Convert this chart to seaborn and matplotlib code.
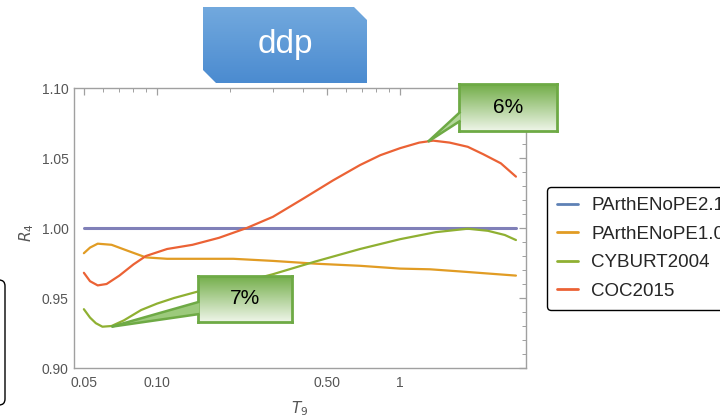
import numpy as np
import pandas as pd
import matplotlib
matplotlib.use('Agg')
import matplotlib.pyplot as plt
import seaborn as sns
from matplotlib.lines import Line2D
from matplotlib.patches import Polygon, FancyBboxPatch
from matplotlib.transforms import Affine2D
from matplotlib.colors import LinearSegmentedColormap
from matplotlib.ticker import FixedLocator, FixedFormatter, NullFormatter

# data
T_parth21 = [0.05, 3.0]
R_parth21 = [1.0, 1.0]

T_parth10 = [0.05, 0.053, 0.057, 0.065, 0.075, 0.09, 0.11, 0.15, 0.206, 0.3, 0.45, 0.685, 1.0, 1.33, 1.76, 3.0]
R_parth10 = [0.982, 0.986, 0.9888, 0.988, 0.984, 0.979, 0.978, 0.978, 0.978, 0.9765, 0.9745, 0.973, 0.971, 0.9705, 0.969, 0.966]

T_cyburt = [0.05, 0.053, 0.056, 0.0596, 0.065, 0.073, 0.086, 0.1, 0.1175, 0.15, 0.2, 0.25, 0.3, 0.447,
            0.685, 1.0, 1.4, 1.9, 2.3, 2.7, 3.0]
R_cyburt = [0.942, 0.936, 0.932, 0.9295, 0.930, 0.934, 0.9414, 0.946, 0.950, 0.955, 0.960, 0.9634, 0.967, 0.976,
            0.985, 0.992, 0.997, 0.9995, 0.998, 0.995, 0.9914]

T_coc = [0.05, 0.053, 0.057, 0.062, 0.07, 0.08, 0.09, 0.11, 0.14, 0.18, 0.234, 0.30, 0.40, 0.53, 0.685,
         0.83, 1.0, 1.2, 1.37, 1.6, 1.9, 2.2, 2.6, 3.0]
R_coc = [0.968, 0.962, 0.959, 0.960, 0.966, 0.974, 0.980, 0.985, 0.988, 0.993, 1.000, 1.008, 1.021, 1.034, 1.045,
         1.052, 1.057, 1.061, 1.0624, 1.061, 1.058, 1.0527, 1.0462, 1.0367]

labels = ['PArthENoPE2.1', 'PArthENoPE1.0', 'CYBURT2004', 'COC2015']
legend_colors = ['#5E81B5', '#E19C24', '#8FB032', '#EB6235']
line_colors = ['#8080B8', '#E19C24', '#8FB032', '#EB6235']

W, H = 720, 418

sns.set_style('white')
plt.rcParams['font.family'] = ['Liberation Sans', 'DejaVu Sans']

fig = plt.figure(figsize=(7.2, 4.18), dpi=100)
pix = Affine2D().scale(1 / W, -1 / H).translate(0, 1) + fig.transFigure

ax = fig.add_axes([74 / W, 1 - 368 / H, 452 / W, 280 / H])
series = [(T_parth21, R_parth21), (T_parth10, R_parth10), (T_cyburt, R_cyburt), (T_coc, R_coc)]
for (t, r), c, lab in zip(series, line_colors, labels):
    df = pd.DataFrame({'T9': t, 'R4': r})
    lw = 2.2 if lab == 'PArthENoPE2.1' else 1.6
    sns.lineplot(data=df, x='T9', y='R4', color=c, lw=lw, ax=ax, legend=False)

ax.set_xscale('log')
ax.set_xlim(0.04553, 3.30)
ax.set_ylim(0.90, 1.10)

gray = '#A0A0A0'
for sp in ax.spines.values():
    sp.set_color(gray)
    sp.set_linewidth(1.0)

ax.xaxis.set_major_locator(FixedLocator([0.05, 0.1, 0.5, 1]))
ax.xaxis.set_major_formatter(FixedFormatter(['0.05', '0.10', '0.50', '1']))
ax.xaxis.set_minor_locator(FixedLocator([0.06, 0.07, 0.08, 0.09, 0.2, 0.3, 0.4, 0.6, 0.7, 0.8, 0.9, 2, 3]))
ax.xaxis.set_minor_formatter(NullFormatter())
ax.yaxis.set_major_locator(FixedLocator([0.90, 0.95, 1.00, 1.05, 1.10]))
ax.yaxis.set_major_formatter(FixedFormatter(['0.90', '0.95', '1.00', '1.05', '1.10']))
ax.yaxis.set_minor_locator(FixedLocator(np.arange(0.90, 1.101, 0.01)))
ax.tick_params(which='both', direction='in', top=True, right=True, color=gray, labelcolor='#555555',
               labelsize=10)
ax.tick_params(which='major', length=5, width=0.9)
ax.tick_params(which='minor', length=3, width=0.7)
ax.tick_params(axis='x', pad=6)
ax.tick_params(axis='y', pad=4)

ax.set_xlabel('$T_9$', fontsize=11, color='#555555')
ax.set_ylabel('$R_4$', fontsize=11, color='#555555')
ax.xaxis.set_label_coords(0.5, -0.11)
ax.yaxis.set_label_coords(-0.085, 0.482)

# legend
handles = [Line2D([], [], color=c, lw=2) for c in legend_colors]
leg = ax.legend(handles, labels, loc='upper left', bbox_to_anchor=(547 / W, 1 - 187 / H),
                bbox_transform=fig.transFigure, frameon=True, fancybox=True, fontsize=13.5,
                handlelength=1.1, handletextpad=0.7, labelspacing=0.6, borderpad=0.55,
                borderaxespad=0, framealpha=1)
leg.get_frame().set_edgecolor('black')
leg.get_frame().set_linewidth(1.0)

# partial box on the left edge
fig.add_artist(FancyBboxPatch((-60, 280), 65, 125, boxstyle='round,pad=0,rounding_size=6',
                              transform=pix, fc='white', ec='black', lw=1.0, zorder=3))


def gradient_box(x0, y0, x1, y1, top, bottom, edge=None, clip=None):
    bax = fig.add_axes([x0 / W, 1 - y1 / H, (x1 - x0) / W, (y1 - y0) / H], zorder=5)
    cmap = LinearSegmentedColormap.from_list('grad', [top, bottom])
    im = bax.imshow(np.linspace(0, 1, 100).reshape(-1, 1), aspect='auto', cmap=cmap,
                    extent=[0, 1, 0, 1], origin='upper')
    bax.set_xlim(0, 1)
    bax.set_ylim(0, 1)
    bax.set_xticks([])
    bax.set_yticks([])
    for sp in bax.spines.values():
        if edge is None:
            sp.set_visible(False)
        else:
            sp.set_color(edge)
            sp.set_linewidth(2)
    bax.patch.set_alpha(0)
    if clip is not None:
        poly = Polygon(clip, closed=True, transform=bax.transAxes, fc='none', ec='none')
        bax.add_patch(poly)
        im.set_clip_path(poly)
    return bax


def pointer(tip, p1, p2, fill):
    fig.add_artist(Polygon([tip, p1, p2], closed=True, transform=pix, fc=fill, ec='none', zorder=6))
    for p in (p1, p2):
        fig.add_artist(Line2D([tip[0], p[0]], [tip[1], p[1]], transform=pix, color=green_edge,
                              lw=1.8, solid_capstyle='butt', zorder=6))


# title box
cx, cy = 13 / 164, 13 / 76
tb = gradient_box(203, 7, 367, 83, '#72A9DE', '#4B8BD0',
                  clip=[(0, cy), (0, 1), (1 - cx, 1), (1, 1 - cy), (1, 0), (cx, 0)])
tb.text(0.5, 0.5, 'ddp', color='white', fontsize=24, ha='center', va='center', transform=tb.transAxes)

# callouts
green_edge = '#6EAA45'
b7 = gradient_box(198, 276, 292, 322, '#72AD48', '#EEF5E8', edge=green_edge)
b7.text(0.5, 0.5, '7%', color='black', fontsize=15, ha='center', va='center', transform=b7.transAxes)
pointer((111.5, 326.7), (199.5, 301.7), (199.5, 314), '#9CCA7C')

b6 = gradient_box(459, 84, 557, 131, '#72AD48', '#EEF5E8', edge=green_edge)
b6.text(0.5, 0.5, '6%', color='black', fontsize=15, ha='center', va='center', transform=b6.transAxes)
pointer((428, 141.7), (460.5, 111.7), (460.5, 120.7), '#B3D79A')

fig.savefig('out.png', dpi=100)
